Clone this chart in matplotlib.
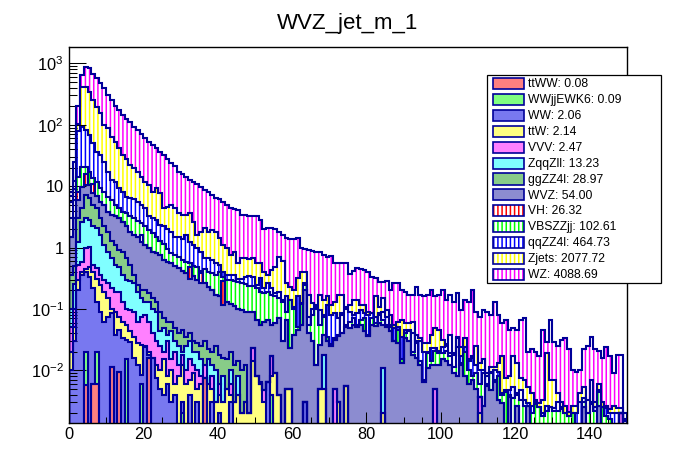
import numpy as np
import matplotlib
matplotlib.use("Agg")
import matplotlib.pyplot as plt
from matplotlib.patches import Rectangle
from matplotlib.ticker import FixedLocator, FixedFormatter, LogLocator, NullFormatter, MultipleLocator

plt.rcParams['font.family'] = ['Liberation Sans', 'DejaVu Sans']
plt.rcParams['mathtext.fontset'] = 'custom'
plt.rcParams['mathtext.rm'] = 'Liberation Sans'
plt.rcParams['mathtext.it'] = 'Liberation Sans:italic'
plt.rcParams['hatch.linewidth'] = 1.1

##### Data #####
# 150 bins of width 1 between 0 and 150
edges = np.arange(0, 151)

processes = ['ttWW', 'WWjjEWK6', 'WW', 'ttW', 'VVV', 'ZqqZll', 'ggZZ4l',
             'WVZ', 'VH', 'VBSZZjj', 'qqZZ4l', 'Zjets', 'WZ']
yields = [0.08, 0.09, 2.06, 2.14, 2.47, 13.23, 28.97,
          54.00, 26.32, 102.61, 464.73, 2077.72, 4088.69]

# height of the stack at the top of each process, bottom layer first
top_ttww = [
    0, 0, 0, 0, 0.0058, 0, 0.006, 0.006, 0, 0,
    0, 0.0115, 0, 0.0095, 0, 0, 0, 0, 0, 0,
    0, 0.016, 0, 0, 0, 0, 0, 0, 0, 0,
    0, 0, 0, 0, 0, 0, 0.0075, 0, 0, 0,
    0, 0, 0, 0, 0, 0, 0, 0, 0, 0,
    0, 0, 0, 0, 0, 0, 0, 0, 0, 0,
    0, 0, 0, 0, 0, 0, 0, 0, 0, 0,
    0, 0, 0, 0, 0, 0, 0, 0, 0, 0,
    0, 0, 0, 0, 0, 0, 0, 0, 0, 0,
    0, 0, 0, 0, 0, 0, 0, 0, 0, 0,
    0, 0, 0, 0, 0, 0, 0, 0, 0, 0,
    0, 0, 0, 0, 0, 0, 0, 0, 0, 0,
    0, 0, 0, 0, 0, 0, 0, 0, 0, 0,
    0, 0, 0, 0, 0, 0, 0, 0, 0, 0,
    0, 0, 0, 0, 0, 0, 0, 0, 0, 0,
]
top_wwjj = [
    0, 0, 0, 0, 0.02, 0, 0, 0.02, 0, 0,
    0, 0, 0, 0, 0, 0.015, 0, 0, 0, 0.006,
    0, 0, 0, 0, 0, 0, 0, 0, 0, 0,
    0.002, 0, 0, 0, 0, 0, 0, 0, 0, 0,
    0, 0, 0, 0, 0, 0, 0, 0, 0, 0,
    0, 0, 0, 0, 0.004, 0, 0, 0, 0, 0,
    0, 0, 0, 0, 0, 0, 0, 0, 0, 0,
    0, 0, 0, 0, 0, 0, 0, 0, 0, 0,
    0, 0, 0, 0, 0, 0, 0, 0, 0, 0,
    0, 0, 0, 0, 0, 0, 0, 0, 0, 0,
    0, 0, 0, 0, 0, 0, 0, 0, 0, 0,
    0, 0, 0, 0, 0, 0, 0, 0, 0, 0,
    0, 0, 0, 0, 0, 0, 0, 0, 0, 0,
    0, 0, 0, 0, 0, 0, 0, 0, 0, 0,
    0, 0, 0, 0, 0, 0, 0, 0, 0, 0,
]
top_ww = [
    0.01, 0.03, 0.2, 0.36, 0.40, 0.33, 0.216, 0.13, 0.09, 0.062,
    0.075, 0.085, 0.038, 0.045, 0.033, 0.031, 0.029, 0.016, 0.012, 0.0084,
    0.024, 0.018, 0.016, 0.0075, 0.005, 0.004, 0.006, 0.003, 0.004, 0,
    0.003, 0, 0.004, 0, 0.003, 0, 0.004, 0, 0.003, 0,
    0.002, 0, 0, 0.003, 0, 0, 0, 0, 0, 0,
    0, 0, 0, 0.0065, 0, 0, 0, 0, 0, 0,
    0, 0, 0, 0.003, 0, 0, 0, 0, 0, 0,
    0, 0, 0, 0, 0, 0, 0, 0, 0, 0,
    0, 0, 0, 0, 0, 0, 0, 0, 0, 0,
    0, 0, 0, 0, 0, 0, 0, 0, 0, 0,
    0, 0, 0, 0, 0, 0, 0, 0, 0, 0,
    0, 0, 0, 0, 0, 0, 0, 0, 0, 0,
    0, 0, 0, 0, 0, 0, 0, 0, 0, 0,
    0, 0, 0, 0, 0, 0, 0, 0, 0, 0,
    0, 0, 0, 0, 0, 0, 0, 0, 0, 0,
]
top_ttw = [
    0.02, 0.05, 0.3, 0.4, 0.45, 0.49, 0.40, 0.31, 0.245, 0.19,
    0.15, 0.10, 0.09, 0.075, 0.062, 0.055, 0.043, 0.035, 0.028, 0.026,
    0.025, 0.02, 0.015, 0.012, 0.01, 0.015, 0.008, 0.01, 0.006, 0.008,
    0.012, 0.006, 0.007, 0.009, 0.005, 0.006, 0.004, 0.006, 0.005, 0.003,
    0.004, 0.003, 0.005, 0.004, 0.003, 0.004, 0.002, 0.003, 0.002, 0.014,
    0.008, 0.006, 0.003, 0.004, 0.008, 0.009, 0.004, 0, 0.005, 0.005,
    0, 0, 0, 0, 0, 0, 0, 0.005, 0.005, 0,
    0, 0, 0.003, 0, 0.0055, 0, 0, 0, 0, 0,
    0, 0, 0, 0, 0.002, 0, 0, 0, 0, 0,
    0, 0, 0, 0, 0, 0, 0, 0, 0, 0,
    0, 0, 0, 0, 0, 0, 0, 0, 0, 0,
    0.002, 0, 0, 0, 0, 0, 0, 0, 0, 0,
    0, 0, 0, 0, 0, 0, 0, 0, 0, 0,
    0, 0, 0, 0, 0, 0, 0, 0, 0, 0,
    0, 0, 0, 0, 0, 0, 0, 0, 0, 0,
]
top_vvv = [
    0.05, 0.1, 0.52, 0.59, 0.97, 1.03, 0.52, 0.46, 0.36, 0.30,
    0.26, 0.216, 0.19, 0.19, 0.13, 0.10, 0.096, 0.09, 0.062, 0.075,
    0.08, 0.062, 0.04, 0.03, 0.025, 0.02, 0.03, 0.015, 0.02, 0.012,
    0.018, 0.01, 0.015, 0.012, 0.01, 0.008, 0.012, 0, 0.008, 0,
    0.006, 0, 0, 0.006, 0, 0, 0, 0, 0, 0.023,
    0, 0, 0.0048, 0, 0.017, 0, 0, 0, 0, 0,
    0, 0, 0, 0, 0, 0, 0, 0, 0, 0,
    0, 0.005, 0, 0, 0, 0, 0, 0, 0, 0,
    0, 0, 0, 0, 0, 0, 0, 0, 0, 0,
    0, 0, 0, 0, 0, 0, 0, 0, 0.005, 0,
    0, 0, 0, 0, 0, 0, 0, 0, 0, 0,
    0.0037, 0, 0, 0, 0, 0, 0, 0, 0, 0,
    0, 0, 0, 0, 0, 0, 0, 0, 0, 0,
    0, 0, 0, 0, 0, 0, 0, 0, 0, 0,
    0, 0, 0, 0, 0, 0, 0, 0, 0.002, 0,
]
top_zqqzll = [
    0.1, 0.25, 1.23, 2.6, 3.0, 2.8, 2.2, 2.05, 1.6, 1.1,
    0.86, 0.67, 0.52, 0.49, 0.36, 0.30, 0.28, 0.26, 0.19, 0.15,
    0.13, 0.13, 0.10, 0.09, 0.043, 0.048, 0.038, 0.043, 0.03, 0.025,
    0.02, 0.025, 0.03, 0.02, 0.02, 0.015, 0.012, 0.015, 0.012, 0.01,
    0, 0.008, 0, 0.01, 0, 0.008, 0, 0, 0, 0,
    0, 0, 0, 0, 0, 0, 0, 0, 0, 0,
    0, 0, 0, 0, 0, 0, 0, 0, 0.018, 0,
    0, 0, 0, 0, 0, 0, 0, 0, 0, 0,
    0, 0, 0, 0, 0.011, 0, 0, 0, 0, 0,
    0, 0, 0, 0, 0, 0, 0, 0, 0, 0,
    0, 0, 0, 0, 0, 0, 0, 0, 0, 0,
    0, 0, 0, 0, 0, 0, 0, 0, 0, 0,
    0, 0, 0, 0, 0, 0, 0, 0, 0, 0,
    0, 0, 0, 0, 0, 0, 0, 0, 0, 0,
    0, 0, 0, 0, 0, 0, 0, 0, 0, 0,
]
top_ggzz = [
    0.36, 0.5, 3.0, 4.35, 7.2, 6.3, 4.9, 4.35, 3.0, 2.2,
    1.8, 1.3, 1.1, 0.91, 0.86, 0.67, 0.52, 0.36, 0.245, 0.2,
    0.2, 0.18, 0.15, 0.13, 0.09, 0.07, 0.062, 0.062, 0.048, 0.04,
    0.045, 0.035, 0.04, 0.03, 0.028, 0.025, 0.03, 0.022, 0.02, 0.025,
    0.018, 0.016, 0.015, 0.02, 0.012, 0.014, 0.01, 0.012, 0, 0,
    0, 0.0065, 0, 0, 0.011, 0, 0, 0, 0, 0,
    0, 0, 0, 0, 0, 0, 0, 0, 0, 0,
    0, 0, 0, 0, 0, 0, 0, 0, 0, 0,
    0, 0, 0, 0, 0, 0, 0, 0, 0, 0,
    0, 0, 0, 0, 0, 0, 0, 0, 0, 0,
    0, 0, 0, 0, 0, 0, 0, 0, 0, 0,
    0, 0, 0, 0, 0, 0, 0, 0, 0, 0,
    0, 0, 0, 0, 0, 0, 0, 0, 0, 0,
    0, 0, 0, 0, 0, 0, 0, 0, 0, 0,
    0, 0, 0, 0, 0, 0, 0, 0, 0, 0,
]
top_wvz = [
    1.5, 3.0, 6.0, 9.5, 10.4, 10.4, 7.6, 7.0, 5.6, 4.9,
    3.8, 3.4, 3.2, 3.0, 2.6, 2.2, 1.8, 1.6, 1.5, 1.24,
    1.1, 0.97, 0.86, 0.8, 0.75, 0.63, 0.59, 0.55, 0.5, 0.46,
    0.42, 0.38, 0.31, 0.34, 0.3, 0.26, 0.26, 0.23, 0.2, 0.17,
    0.16, 0.116, 0.13, 0.12, 0.11, 0.1, 0.095, 0.09, 0.09, 0.09,
    0.066, 0.055, 0.062, 0.066, 0.055, 0.058, 0.07, 0.03, 0.066, 0.023,
    0.038, 0.046, 0.055, 0.20, 0.04, 0.03, 0.012, 0.026, 0.038, 0.03,
    0.025, 0.031, 0.036, 0.04, 0.05, 0.048, 0.055, 0.05, 0.055, 0.043,
    0.036, 0.055, 0.052, 0.058, 0.055, 0.05, 0.043, 0.03, 0.028, 0.013,
    0.033, 0.03, 0.018, 0.016, 0.012, 0.0065, 0.011, 0.012, 0.012, 0.012,
    0.015, 0.014, 0.012, 0.009, 0.008, 0.012, 0.008, 0.006, 0.007, 0.005,
    0.0033, 0.0026, 0.0055, 0.0048, 0.0065, 0.0033, 0.0029, 0, 0.0037, 0,
    0.0026, 0, 0, 0.0026, 0, 0, 0, 0, 0, 0,
    0, 0, 0, 0, 0, 0, 0, 0, 0.0025, 0,
    0, 0, 0.0026, 0, 0, 0, 0, 0, 0, 0,
]
top_vh = [
    0, 0, 8.0, 0, 16.0, 0, 11.0, 0, 0, 0,
    0, 0, 0, 0, 0, 0, 0, 0, 0, 1.6,
    0, 0, 0, 0, 0, 0, 0, 0, 0, 0,
    0, 0, 0.49, 0, 0, 0.38, 0, 0, 0, 0,
    0, 0.28, 0, 0, 0, 0, 0, 0, 0, 0,
    0, 0, 0, 0, 0, 0, 0, 0, 0, 0,
    0, 0, 0, 0, 0, 0, 0, 0, 0, 0,
    0, 0, 0, 0, 0, 0, 0, 0, 0, 0,
    0, 0, 0, 0, 0, 0, 0, 0, 0, 0,
    0, 0, 0, 0, 0, 0, 0, 0, 0, 0,
    0, 0, 0, 0, 0, 0, 0, 0, 0, 0,
    0, 0, 0, 0, 0, 0, 0, 0, 0, 0,
    0, 0, 0, 0, 0, 0, 0, 0, 0, 0,
    0, 0, 0, 0, 0, 0, 0, 0, 0, 0,
    0, 0, 0, 0, 0, 0, 0, 0, 0, 0,
]
top_vbs = [
    3, 6, 14.3, 20.7, 20.7, 17.2, 13.4, 11.8, 9.2, 8.1,
    6.7, 5.9, 4.9, 4.35, 3.8, 3.6, 3.3, 3.0, 2.7, 2.5,
    2.2, 1.9, 1.7, 1.5, 1.3, 1.15, 0.95, 0.8, 0.75, 0.7,
    0.62, 0.58, 0.55, 0.5, 0.48, 0.42, 0.45, 0.40, 0.38, 0.36,
    0.40, 0.33, 0.30, 0.30, 0.28, 0.27, 0.26, 0.25, 0.24, 0.24,
    0.216, 0.19, 0.18, 0.19, 0.17, 0.16, 0.15, 0.13, 0.09, 0.14,
    0.10, 0.05, 0.12, 0.245, 0.055, 0.08, 0.10, 0.055, 0.075, 0.035,
    0.027, 0.033, 0.038, 0.08, 0.055, 0.062, 0.07, 0.055, 0.066, 0.07,
    0.038, 0.07, 0.058, 0.08, 0.066, 0.055, 0.05, 0.03, 0.045, 0.015,
    0.04, 0.043, 0.02, 0.028, 0.014, 0.007, 0.019, 0.014, 0.021, 0.019,
    0.019, 0.021, 0.017, 0.0115, 0.024, 0.013, 0.02, 0.01, 0.008, 0.009,
    0.006, 0.009, 0.006, 0.009, 0.007, 0.008, 0.004, 0.0045, 0.004, 0.0035,
    0.004, 0.0033, 0.0026, 0.0026, 0.002, 0.0028, 0.0025, 0.0018, 0.0022, 0.0025,
    0.0022, 0.0022, 0.0023, 0.002, 0.0018, 0.002, 0, 0, 0.003, 0.002,
    0.0028, 0.0022, 0.0045, 0.0025, 0.0018, 0.0016, 0, 0, 0, 0,
]
top_qqzz = [
    5.5, 9, 80, 93, 82, 68, 50, 36, 32, 25,
    17, 12.6, 11.8, 9.2, 8.1, 6.7, 6.3, 6.2, 5.6, 4.9,
    4.35, 3.2, 3.0, 2.8, 2.3, 2.2, 2.0, 1.8, 1.5, 1.5,
    1.4, 1.6, 1.24, 1.1, 0.97, 0.86, 0.67, 0.67, 0.63, 0.55,
    0.52, 0.40, 0.36, 0.36, 0.36, 0.31, 0.31, 0.33, 0.34, 0.335,
    0.245, 0.315, 0.216, 0.26, 0.216, 0.18, 0.19, 0.14, 0.16, 0.14,
    0.109, 0.16, 0.123, 0.26, 0.075, 0.1, 0.109, 0.096, 0.08, 0.116,
    0.08, 0.085, 0.07, 0.085, 0.10, 0.09, 0.08, 0.085, 0.096, 0.085,
    0.08, 0.085, 0.075, 0.085, 0.09, 0.075, 0.055, 0.048, 0.05, 0.035,
    0.046, 0.045, 0.04, 0.03, 0.03, 0.02, 0.02, 0.023, 0.023, 0.021,
    0.024, 0.025, 0.019, 0.018, 0.033, 0.017, 0.024, 0.014, 0.016, 0.012,
    0.010, 0.010, 0.008, 0.0095, 0.010, 0.0095, 0.0042, 0.0048, 0.0048, 0.0054,
    0.0042, 0.0048, 0.0033, 0.0029, 0.0026, 0.003, 0.0025, 0.002, 0.0026, 0.0025,
    0.0024, 0.003, 0.0025, 0.002, 0.0018, 0.002, 0.002, 0.003, 0.0035, 0.002,
    0.003, 0.0025, 0.0048, 0.0025, 0.0024, 0.002, 0.002, 0.002, 0.0018, 0.0015,
]
top_zjets = [
    7, 12, 101, 414, 414, 345, 252, 196, 153, 99,
    87, 64, 53, 41, 32, 28, 22, 19.4, 17, 14.2,
    11.8, 10.4, 8.1, 9.2, 7.6, 4.35, 4.6, 4.9, 4.35, 3.6,
    3.4, 3.4, 3.6, 2.6, 1.6, 1.8, 2.05, 1.8, 1.93, 1.8,
    1.41, 1.1, 0.97, 0.76, 0.86, 0.55, 0.67, 0.67, 0.65, 0.67,
    0.55, 0.55, 0.40, 0.36, 0.43, 0.49, 0.71, 0.60, 0.26, 0.23,
    0.20, 0.315, 0.40, 0.40, 0.17, 0.123, 0.116, 0.17, 0.14, 0.16,
    0.116, 0.13, 0.17, 0.17, 0.109, 0.116, 0.14, 0.14, 0.116, 0.116,
    0.09, 0.085, 0.16, 0.109, 0.15, 0.096, 0.08, 0.055, 0.062, 0.066,
    0.058, 0.058, 0.062, 0.038, 0.033, 0.028, 0.028, 0.038, 0.048, 0.045,
    0.031, 0.027, 0.038, 0.019, 0.035, 0.024, 0.033, 0.015, 0.017, 0.025,
    0.013, 0.015, 0.009, 0.0115, 0.0115, 0.013, 0.017, 0.0075, 0.008, 0.017,
    0.013, 0.0075, 0.007, 0.0054, 0.0042, 0.0033, 0.0029, 0.0033, 0.019, 0.007,
    0.007, 0.0042, 0.0031, 0.0026, 0.0021, 0.0026, 0.0026, 0.0042, 0.0054, 0.0033,
    0.007, 0.0031, 0.006, 0.0031, 0.0026, 0.0023, 0.0026, 0.0024, 0.0024, 0.0016,
]
top_wz = [
    8, 25, 200, 650, 880, 830, 680, 570, 470, 400,
    300, 250, 205, 175, 145, 123, 110, 92, 82, 70,
    60, 52, 47, 41, 36, 32, 28, 23.5, 21, 17,
    16, 14, 12.6, 11.5, 10.7, 9.8, 8.6, 8.1, 7.2, 6.3,
    6.1, 5.6, 5.0, 4.4, 4.3, 4.1, 3.4, 3.4, 3.2, 3.2,
    3.2, 2.8, 2.0, 2.05, 2.1, 2.0, 1.8, 1.6, 1.45, 1.4,
    1.38, 1.41, 1.0, 0.93, 0.9, 0.87, 0.85, 0.83, 0.75, 0.7,
    0.72, 0.55, 0.55, 0.56, 0.55, 0.37, 0.42, 0.47, 0.45, 0.43,
    0.40, 0.33, 0.32, 0.27, 0.27, 0.28, 0.20, 0.26, 0.26, 0.20,
    0.19, 0.17, 0.17, 0.23, 0.17, 0.16, 0.17, 0.20, 0.16, 0.17,
    0.20, 0.14, 0.17, 0.13, 0.18, 0.096, 0.14, 0.13, 0.20, 0.09,
    0.075, 0.096, 0.09, 0.08, 0.13, 0.08, 0.058, 0.066, 0.045, 0.048,
    0.045, 0.066, 0.07, 0.02, 0.022, 0.02, 0.017, 0.045, 0.029, 0.066,
    0.029, 0.025, 0.031, 0.033, 0.022, 0.010, 0.0095, 0.010, 0.022, 0.025,
    0.035, 0.022, 0.021, 0.016, 0.024, 0.017, 0.009, 0.018, 0.018, 0.002,
]

ytick_vals = [1e-2, 1e-1, 1, 10, 100, 1000]
ytick_labels = ['$10^{-2}$', '$10^{-1}$', '1', '10', '$10^{2}$', '$10^{3}$']

##### Styles #####
navy = '#000099'
# (fill kind, colour) per process; 'dots' = fine checker pattern, 'lines' = vertical hatch
styles = [('dots', '#ff8080'), ('dots', '#80ff80'), ('dots', '#7878f0'),
          ('dots', '#ffff80'), ('dots', '#ff80ff'), ('dots', '#80ffff'),
          ('dots', '#88cc88'), ('dots', '#8c8cd0'),
          ('lines', '#ff0000'), ('lines', '#00ff00'), ('lines', '#0000ff'),
          ('lines', '#ffff00'), ('lines', '#ff00ff')]

W, H = 696, 472
fig = plt.figure(figsize=(W / 100, H / 100), dpi=100)
ax = fig.add_axes([69 / W, 1 - 423.3 / H, (626.7 - 69) / W, (423.3 - 47.3) / H])
ax.set_yscale('log')

stack = np.vstack([top_ttww, top_wwjj, top_ww, top_ttw, top_vvv, top_zqqzll, top_ggzz,
                   top_wvz, top_vh, top_vbs, top_qqzz, top_zjets, top_wz]).astype(float)
stack = np.maximum.accumulate(stack, axis=0)   # layers are nested
floor = 1e-6
prev = np.full(stack.shape[1], floor)
for i, (kind, col) in enumerate(styles):
    top = np.where(stack[i] > 0, stack[i], floor)
    if kind == 'lines':
        ax.stairs(top, edges, baseline=prev, fill=True, facecolor='white',
                  edgecolor=col, hatch='||||', linewidth=0, zorder=1)
    else:
        ax.stairs(top, edges, baseline=prev, fill=True, facecolor=col,
                  edgecolor='none', linewidth=0, zorder=1)
    prev = top
for i in range(len(styles)):
    top = np.where(stack[i] > 0, stack[i], floor)
    ax.stairs(top, edges, baseline=floor, fill=False, color=navy, lw=1.5, zorder=2)

ax.set_xlim(0, 150)
ax.set_ylim(1.37e-3, 1823)
ax.xaxis.set_major_locator(MultipleLocator(20))
ax.xaxis.set_minor_locator(MultipleLocator(5))
ax.yaxis.set_major_locator(FixedLocator(ytick_vals))
ax.yaxis.set_major_formatter(FixedFormatter(ytick_labels))
ax.yaxis.set_minor_locator(LogLocator(base=10, subs=np.arange(2, 10), numticks=30))
ax.yaxis.set_minor_formatter(NullFormatter())
ax.tick_params(which='both', direction='in', top=False, right=False, width=0.75, colors='black')
ax.tick_params(axis='y', which='major', length=12.2, pad=4, labelsize=11.8)
ax.tick_params(axis='y', which='minor', length=6.1)
ax.tick_params(axis='x', which='major', length=8.1, pad=2.7, labelsize=11.8)
ax.tick_params(axis='x', which='minor', length=4.0)
for s in ax.spines.values():
    s.set_linewidth(1.0)
    s.set_zorder(3)

fig.text(348 / W, 1 - 29 / H, 'WVZ_jet_m_1', ha='center', va='baseline', fontsize=16)

# legend box (pixel layout of the original)
def fx(x):
    return x / W

def fy(y):
    return 1 - y / H

fig.add_artist(Rectangle((fx(487.3), fy(282.7)), fx(660.7) - fx(487.3), fy(75) - fy(282.7),
                         transform=fig.transFigure, facecolor='white', edgecolor='black',
                         lw=0.9, zorder=5))
for i, (name, yv) in enumerate(zip(processes, yields)):
    kind, col = styles[i]
    yc = 83.3 + 15.95 * i
    if kind == 'lines':
        sw = Rectangle((fx(493.3), fy(yc + 5.5)), fx(524.3) - fx(493.3), 11 / H,
                       transform=fig.transFigure, facecolor='white', edgecolor=col,
                       hatch='||||', lw=0, zorder=6)
    else:
        sw = Rectangle((fx(493.3), fy(yc + 5.5)), fx(524.3) - fx(493.3), 11 / H,
                       transform=fig.transFigure, facecolor=col, edgecolor='none',
                       lw=0, zorder=6)
    fig.add_artist(sw)
    fig.add_artist(Rectangle((fx(493.3), fy(yc + 5.5)), fx(524.3) - fx(493.3), 11 / H,
                             transform=fig.transFigure, facecolor='none', edgecolor=navy,
                             lw=1.2, zorder=7))
    fig.text(fx(528), fy(yc + 3.6), f'{name}: {yv:.2f}', ha='left', va='baseline',
             fontsize=8.7, zorder=7)

fig.savefig('out.png', dpi=100)
